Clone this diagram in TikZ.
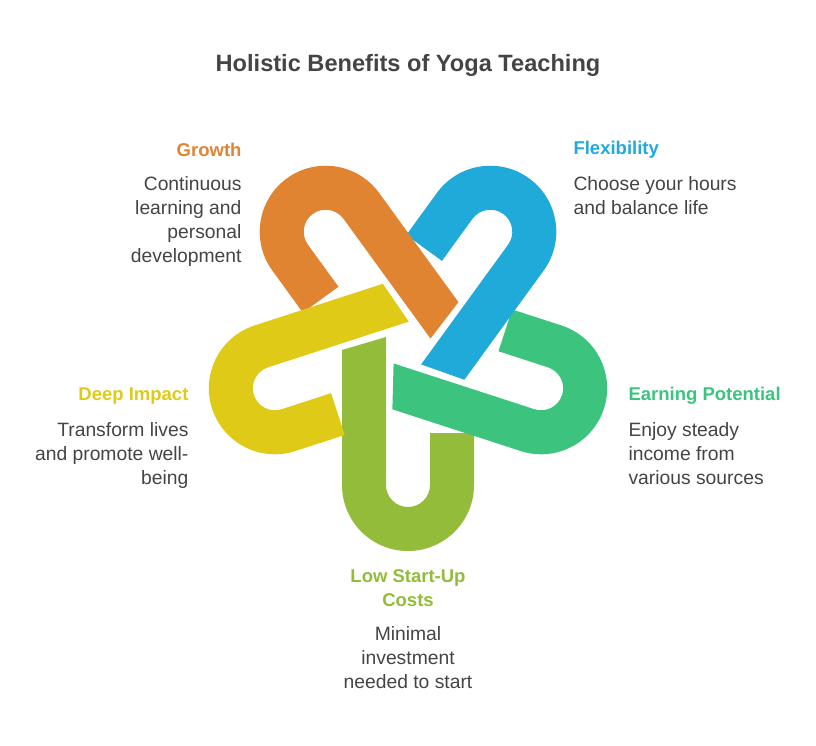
\documentclass[tikz,border=0pt]{standalone}
\usepackage{fontspec}
\setmainfont{Liberation Sans}
\definecolor{cG}{HTML}{92BC3A}
\definecolor{cT}{HTML}{3CC47F}
\definecolor{cB}{HTML}{1FAAD9}
\definecolor{cO}{HTML}{E08431}
\definecolor{cY}{HTML}{DFCB17}
\definecolor{txt}{HTML}{444444}
\tikzset{
 piece/.pic={\fill[#1] (-66,-5) -- (-66,-140) arc[start angle=180,end angle=360,radius=66] -- (66,-88) -- (22,-88) -- (22,-140) arc[start angle=0,end angle=-180,radius=22] -- (-22,8) -- cycle;},
 head/.style={font=\bfseries\fontsize{18.5}{24}\selectfont},
 desc/.style={font=\fontsize{19.3}{24}\selectfont,text=txt}
}
\begin{document}
\begin{tikzpicture}[x=1pt,y=1pt]
\useasboundingbox (0,0) rectangle (816,-745);
\pic[shift={(408,-345)},rotate=0] {piece=cG};
\pic[shift={(408,-345)},rotate=72] {piece=cT};
\pic[shift={(408,-345)},rotate=144] {piece=cB};
\pic[shift={(408,-345)},rotate=216] {piece=cO};
\pic[shift={(408,-345)},rotate=288] {piece=cY};
\node[font=\bfseries\fontsize{23.6}{26}\selectfont,text=txt] (title) at (408,-65) {Holistic Benefits of Yoga Teaching};
\node[head,text=cO,anchor=east] (h1) at (245,-150) {Growth};
\node[desc,anchor=north east,align=right] (d1) at (245,-173) {Continuous\\learning and\\personal\\development};
\node[head,text=cB,anchor=west] (h2) at (570,-150) {Flexibility};
\node[desc,anchor=north west,align=left] (d2) at (570,-173) {Choose your hours\\and balance life};
\node[head,text=cY,anchor=east] (h3) at (192,-396) {Deep Impact};
\node[desc,anchor=north east,align=right] (d3) at (192,-419) {Transform lives\\and promote well-\\being};
\node[head,text=cT,anchor=west] (h4) at (625,-396) {Earning Potential};
\node[desc,anchor=north west,align=left] (d4) at (625,-419) {Enjoy steady\\income from\\various sources};
\node[head,text=cG,align=center,font=\bfseries\fontsize{18.5}{24}\selectfont] (h5) at (408,-588) {Low Start-Up\\Costs};
\node[desc,anchor=north,align=center] (d5) at (408,-623) {Minimal\\investment\\needed to start};
\end{tikzpicture}
\end{document}
